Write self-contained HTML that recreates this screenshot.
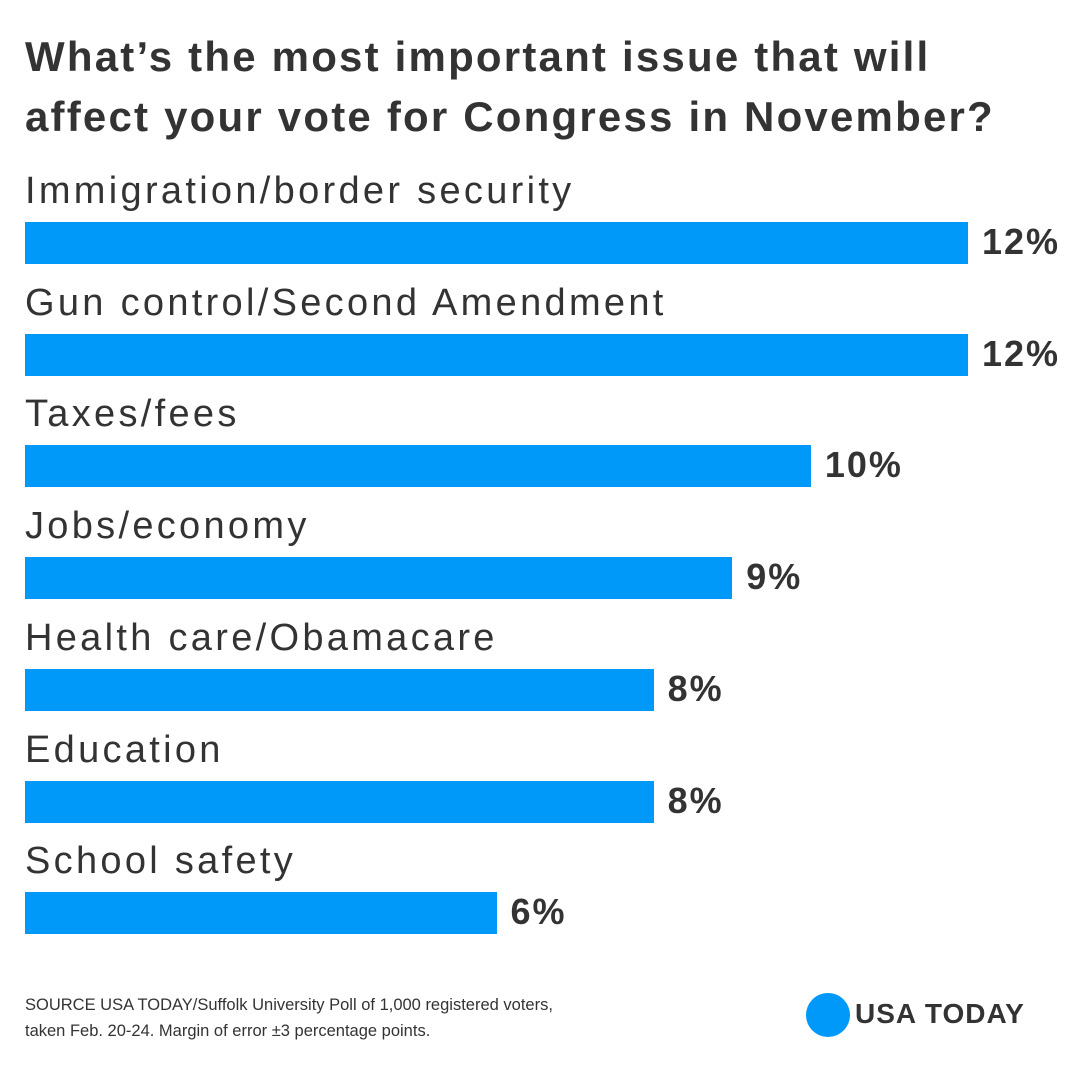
<!DOCTYPE html>
<html><head><meta charset="utf-8"><style>
body{margin:0;width:1080px;height:1079px;background:#fff;font-family:"Liberation Sans",sans-serif;color:#333;position:relative;overflow:hidden}
.title{position:absolute;left:25px;top:27px;font-weight:bold;font-size:42px;line-height:60px;letter-spacing:2.2px;color:#333}
.lbl{position:absolute;left:25px;font-size:38px;letter-spacing:3.3px;color:#333;white-space:nowrap}
.bar{position:absolute;left:25px;height:42px;background:#0099fa}
.val{position:absolute;font-weight:bold;font-size:36px;letter-spacing:2px;color:#333}
.src{position:absolute;left:25px;top:992px;font-size:16.5px;line-height:26px;color:#333}
.logo{position:absolute;left:806px;top:993px;width:44px;height:44px;border-radius:50%;background:#0099fa}
.logot{position:absolute;left:855px;top:998px;font-weight:bold;font-size:28px;letter-spacing:1px;color:#333}
</style></head><body>
<div class="title">What’s the most important issue that will<br>affect your vote for Congress in November?</div>
<div id="chart"></div>
<div class="src">SOURCE USA TODAY/Suffolk University Poll of 1,000 registered voters,<br>taken Feb. 20-24. Margin of error ±3 percentage points.</div>
<div class="logo"></div>
<div class="logot">USA TODAY</div>
<script>
const categories=["Immigration/border security","Gun control/Second Amendment","Taxes/fees","Jobs/economy","Health care/Obamacare","Education","School safety"];
const values=[12,12,10,9,8,8,6];
const x=v=>v*943/12;
const yTop=i=>222+i*111.7;
const c=document.getElementById('chart');
categories.forEach((cat,i)=>{
  const l=document.createElement('div');l.className='lbl';
  
  
  l.style.top=(yTop(i)-52)+'px';l.textContent=cat;c.appendChild(l);
  const b=document.createElement('div');b.className='bar';
  
  
  b.style.top=yTop(i)+'px';b.style.width=x(values[i])+'px';c.appendChild(b);
  const v=document.createElement('div');v.className='val';
  
  
  v.style.top=(yTop(i)-1)+'px';v.style.left=(25+x(values[i])+14)+'px';v.textContent=values[i]+'%';c.appendChild(v);
});
</script>
</body></html>
